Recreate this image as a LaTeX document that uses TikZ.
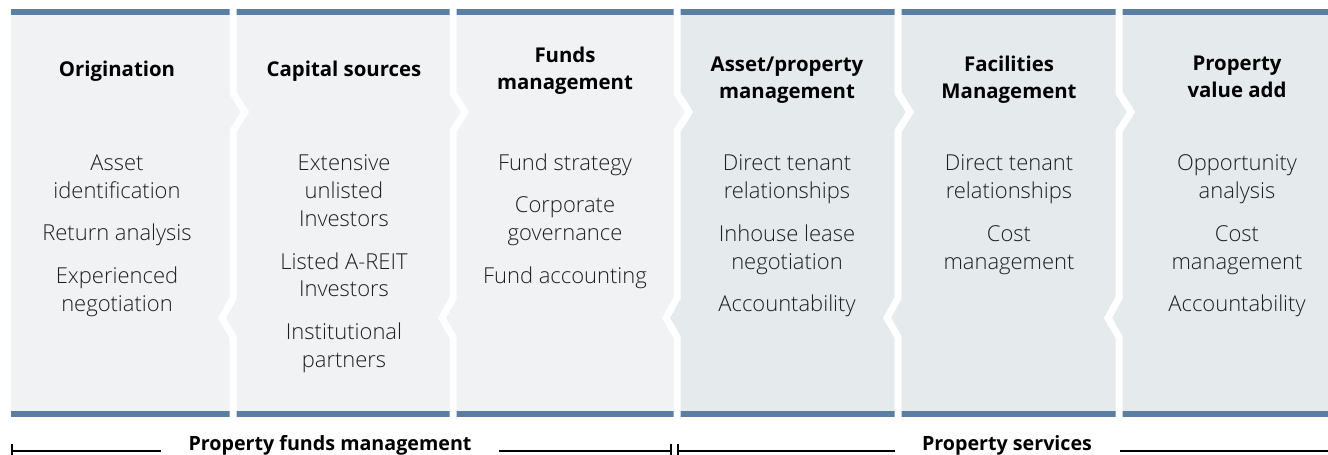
\documentclass[tikz,border=0pt]{standalone}
\usepackage{fontspec}
\setmainfont{Open Sans}
\IfFontExistsTF{Open Sans Light}{\newfontfamily\itemfont{Open Sans Light}}{\newfontfamily\itemfont{Open Sans}}
\definecolor{barblue}{HTML}{5A7FA3}
\definecolor{panellight}{HTML}{F1F2F4}
\definecolor{paneldark}{HTML}{E5EAED}
\definecolor{inkgray}{HTML}{1E1E1E}
\begin{document}
\begin{tikzpicture}[x=0.02cm, y=-0.02cm,
  coltitle/.style={font=\fontsize{11.6}{15.3}\selectfont\bfseries, align=center, inner sep=0pt, anchor=north, text=black},
  colbody/.style={font=\itemfont\fontsize{12.5}{15.9}\selectfont, align=center, inner sep=0pt, anchor=north, text=inkgray},
  sepline/.style={white, line width=0.14cm},
  bracket/.style={black, line width=1.1pt},
  grouplabel/.style={font=\fontsize{11.2}{13}\selectfont\bfseries, fill=white, inner ysep=1pt, inner xsep=0.55cm, anchor=base}]
  \useasboundingbox (0,0) rectangle (1328,454);
          % panels and bars
          \fill[panellight] (11,15) rectangle (677,411);
          \fill[paneldark] (677,15) rectangle (1328,411);
          \fill[panellight] (677,93) -- (689,112) -- (677,131) -- cycle;
          \fill[paneldark] (677,298) -- (666,318) -- (677,337) -- cycle;
          \fill[barblue] (11,9) rectangle (1328,15);
          \fill[barblue] (11,411) rectangle (1328,417);
          \foreach \b in {233,453,677,898,1119}
            \draw[sepline] (\b,9) -- (\b,93) -- (\b+12,112) -- (\b,131) -- (\b,298) -- (\b-11,318) -- (\b,337) -- (\b,417);
          % column titles
          \node [coltitle] (orig) at (117,61) {Origination};
          \node [coltitle] (capital) at (344,61) {Capital sources};
          \node [coltitle] (funds) at (565,47) {Funds\\management};
          \node [coltitle] (asset) at (787,57) {Asset/property\\management};
          \node [coltitle] (facil) at (1009,56) {Facilities\\Management};
          \node [coltitle] (valueadd) at (1237,56) {Property\\value add};
          % column items
          \node [colbody] (origitems) at (117,154) {Asset\\identification\\[8.5pt]Return analysis\\[8.5pt]Experienced\\negotiation};
          \node [colbody] (capitalitems) at (344,154) {Extensive\\unlisted\\Investors\\[8.5pt]Listed A-REIT\\Investors\\[8.5pt]Institutional\\partners};
          \node [colbody] (fundsitems) at (565,153) {Fund strategy\\[8.5pt]Corporate\\governance\\[8.5pt]Fund accounting};
          \node [colbody] (assetitems) at (787,154) {Direct tenant\\relationships\\[8.5pt]Inhouse lease\\negotiation\\[8.5pt]Accountability};
          \node [colbody] (facilitems) at (1009,154) {Direct tenant\\relationships\\[8.5pt]Cost\\management};
          \node [colbody] (valueadditems) at (1237,154) {Opportunity\\analysis\\[8.5pt]Cost\\management\\[8.5pt]Accountability};
          % groups below
          \coordinate (pfleft) at (12,451);
          \coordinate (pfright) at (671,451);
          \coordinate (psleft) at (678,451);
          \coordinate (psright) at (1328,451);
          \draw[bracket] (pfleft) -- (pfright);
          \draw[bracket] (psleft) -- (psright);
          \draw[bracket] (pfleft) ++(0,-7) -- ++(0,14);
          \draw[bracket] (pfright) ++(0,-7) -- ++(0,14);
          \draw[bracket] (psleft) ++(0,-7) -- ++(0,14);
          \node [grouplabel] (pflabel) at (330,450) {Property funds management};
          \node [grouplabel] (pslabel) at (1007,450) {Property services};
\end{tikzpicture}
\end{document}
